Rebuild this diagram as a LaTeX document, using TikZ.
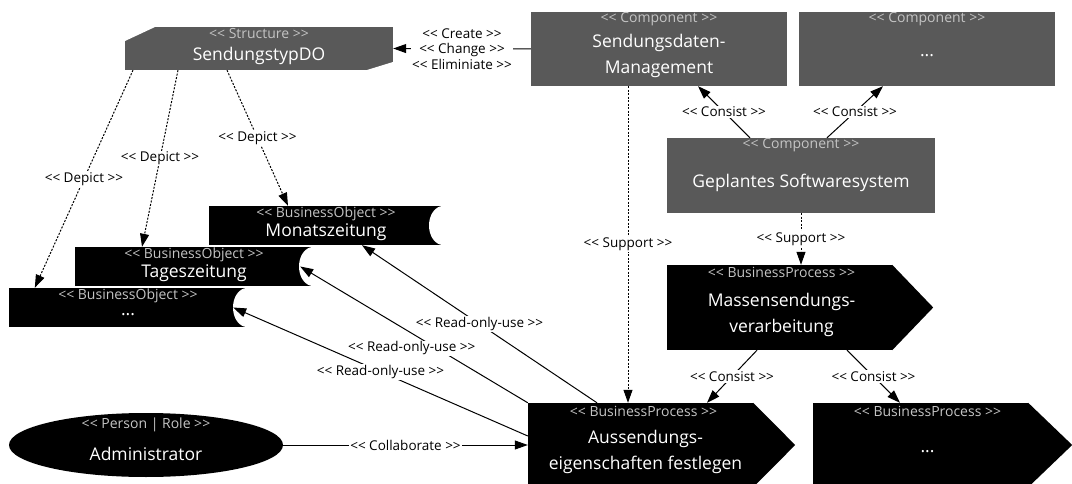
\documentclass[tikz,border=0pt]{standalone}
\usepackage{fontspec}
\setmainfont{Open Sans}
\usetikzlibrary{arrows.meta,positioning,calc,shapes.geometric}
\definecolor{compgray}{RGB}{89,89,89}
\definecolor{stereogray}{RGB}{196,196,196}
\newcommand{\stype}[1]{<{}<~#1~>{}>}

\begin{document}
\begin{tikzpicture}[
  x=1pt, y=-1pt,
  component/.style={rectangle, fill=compgray, minimum width=256pt, minimum height=74pt, inner sep=0pt},
  structure/.style={rectangle, fill=compgray, minimum width=268pt, minimum height=43pt, inner sep=0pt,
    path picture={
      \fill[white] (path picture bounding box.north west) -- ++(30pt,0pt) -- ++(-30pt,-14pt) -- cycle;
      \fill[white] (path picture bounding box.south east) -- ++(-26pt,0pt) -- ++(26pt,8pt) -- cycle;}},
  process/.style={rectangle, fill=black, minimum width=225pt, minimum height=84pt, inner sep=0pt},
  bobject/.style={rectangle, fill=black, minimum width=238pt, minimum height=39pt, inner sep=0pt,
    path picture={\fill[white] (path picture bounding box.east) ellipse [x radius=14pt, y radius=19.5pt];}},
  person/.style={ellipse, fill=black, minimum width=274pt, minimum height=64pt, inner sep=0pt},
  stereo/.style={text=stereogray, font=\fontsize{14}{16}\selectfont, inner sep=0pt},
  nametext/.style={text=white, font=\fontsize{17.5}{26}\selectfont, align=center, inner sep=0pt},
  lbl/.style={fill=white, inner sep=1pt, align=center, font=\fontsize{13.5}{15.5}\selectfont},
  rel/.style={-{Triangle[length=13pt, width=9pt]}, line width=1pt},
  dep/.style={rel, dash pattern=on 2pt off 1.5pt},
]
\useasboundingbox (0,0) rectangle (1072,484);

\node[structure] (typ) at (259,48.5) {};
\node[stereo] (typ-st) at ([yshift=-7pt]typ.north) {\stype{Structure}};
\node[nametext] (typ-nm) at ([yshift=-7pt]typ.center) {SendungstypDO};

\node[component] (sdm) at (659,49) {};
\node[stereo] (sdm-st) at ([yshift=-7pt]sdm.north) {\stype{Component}};
\node[nametext] (sdm-nm) at ([yshift=-7pt]sdm.center) {Sendungsdaten-\\Management};

\node[component] (comp) at (927,49) {};
\node[stereo] (comp-st) at ([yshift=-7pt]comp.north) {\stype{Component}};
\node[nametext] (comp-nm) at ([yshift=-7pt]comp.center) {...};

\node[component, minimum width=268pt, minimum height=75pt] (sys) at (801,175.5) {};
\node[stereo] (sys-st) at ([yshift=-7pt]sys.north) {\stype{Component}};
\node[nametext] (sys-nm) at ([yshift=-7pt]sys.center) {Geplantes Softwaresystem};

\node[process, minimum height=85pt] (mass) at (779.5,307.5) {};
\fill (mass.north east) -- ([xshift=41pt]mass.east) -- (mass.south east) -- cycle;
\node[stereo] (mass-st) at ([xshift=2pt, yshift=-8pt]mass.north) {\stype{BusinessProcess}};
\node[nametext] (mass-nm) at ([xshift=2pt, yshift=-7pt]mass.center) {Massensendungs-\\verarbeitung};

\node[process] (auss) at (640.5,445) {};
\fill (auss.north east) -- ([xshift=42pt]auss.east) -- (auss.south east) -- cycle;
\node[stereo] (auss-st) at ([xshift=3pt, yshift=-9pt]auss.north) {\stype{BusinessProcess}};
\node[nametext] (auss-nm) at ([xshift=5pt, yshift=-7pt]auss.center) {Aussendungs-\\eigenschaften festlegen};

\node[process, minimum width=215pt] (bp) at (920.5,445) {};
\fill (bp.north east) -- ([xshift=44pt]bp.east) -- (bp.south east) -- cycle;
\node[stereo] (bp-st) at ([xshift=7pt, yshift=-9pt]bp.north) {\stype{BusinessProcess}};
\node[nametext] (bp-nm) at ([xshift=7pt, yshift=-7pt]bp.center) {...};

\node[bobject, minimum width=234pt] (mon) at (326,225.5) {};
\node[stereo] (mon-st) at ([yshift=-8pt]mon.north) {\stype{BusinessObject}};
\node[nametext] (mon-nm) at ([yshift=-7pt]mon.center) {Monatszeitung};

\node[bobject] (tag) at (194,266.5) {};
\node[stereo] (tag-st) at ([yshift=-8pt]tag.north) {\stype{BusinessObject}};
\node[nametext] (tag-nm) at ([yshift=-7pt]tag.center) {Tageszeitung};

\node[bobject] (obj) at (128,307.5) {};
\node[stereo] (obj-st) at ([yshift=-8pt]obj.north) {\stype{BusinessObject}};
\node[nametext] (obj-nm) at ([yshift=-7pt]obj.center) {...};

\node[person] (admin) at (146,445) {};
\node[stereo] (admin-st) at ([yshift=-12pt]admin.north) {\stype{Person | Role}};
\node[nametext] (admin-nm) at ([yshift=-9pt]admin.center) {Administrator};

\draw[rel] (sdm.west) -- (typ.east) node[lbl, midway] {\stype{Create}\\\stype{Change}\\\stype{Eliminiate}};
\draw[dep] ([xshift=-126pt]typ.south) -- ([xshift=26pt]obj.north west) node[lbl, midway] {\stype{Depict}};
\draw[dep] ([xshift=-81pt]typ.south) -- ([xshift=-52pt]tag.north) node[lbl, midway] {\stype{Depict}};
\draw[dep] ([xshift=-32pt]typ.south) -- ([xshift=-38pt]mon.north) node[lbl, midway] {\stype{Depict}};
\draw[dep] ([xshift=-31pt]sdm.south) -- ([xshift=-31pt]sdm.south |- auss.north) node[lbl, midway] {\stype{Support}};
\draw[dep] (sys.south) -- (sys.south |- mass.north) node[lbl, midway] {\stype{Support}};
\draw[rel] ([xshift=-51pt]sys.north) -- ([xshift=39pt]sdm.south) node[lbl, midway] {\stype{Consist}};
\draw[rel] ([xshift=26pt]sys.north) -- ([xshift=-44pt]comp.south) node[lbl, midway] {\stype{Consist}};
\draw[rel] ([xshift=-22.5pt]mass.south) -- ([xshift=66.5pt]auss.north) node[lbl, midway] {\stype{Consist}};
\draw[rel] ([xshift=67.5pt]mass.south) -- ([xshift=-20.5pt]bp.north) node[lbl, midway] {\stype{Consist}};
\draw[rel] ([xshift=-43.5pt]auss.north) -- ([xshift=36pt]mon.south) node[lbl, midway] {\stype{Read-only-use}};
\draw[rel] (auss.north west) -- ([xshift=-13pt]tag.east) node[lbl, pos=0.51, yshift=-15pt] {\stype{Read-only-use}};
\draw[rel] ([yshift=9pt]auss.west) -- ([xshift=-14pt]obj.east) node[lbl, midway] {\stype{Read-only-use}};
\draw[rel] (admin.east) -- (auss.west) node[lbl, midway] {\stype{Collaborate}};
\end{tikzpicture}
\end{document}
